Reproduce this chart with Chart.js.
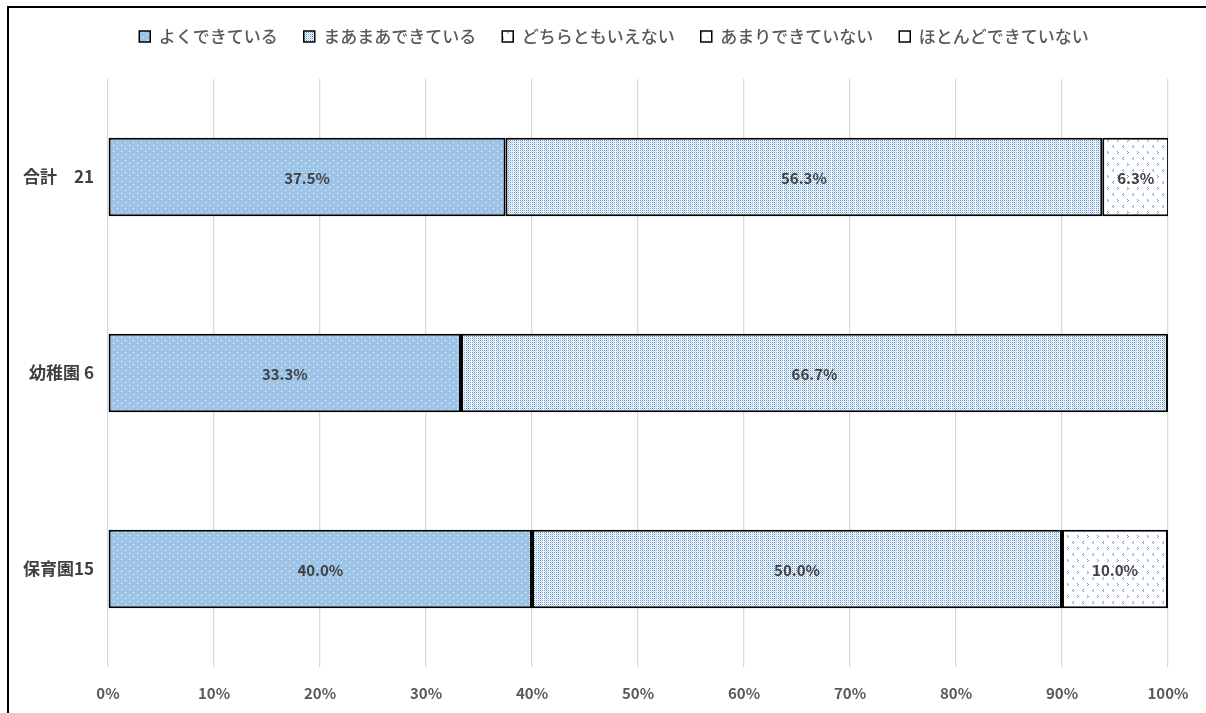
<!DOCTYPE html>
<html>
<head>
<meta charset="utf-8">
<script src="https://cdn.jsdelivr.net/npm/chart.js@4/dist/chart.umd.min.js"></script>
<style>
body{margin:0;background:#fff;}
#wrap{position:relative;width:1206px;height:713px;}
</style>
</head>
<body>
<div id="wrap"><canvas id="cv" width="1206" height="713"></canvas></div>
<script>
// categories and series (percent of answers)
const categories = ['合計　21', '幼稚園 6', '保育園15'];
const seriesNames = ['よくできている', 'まあまあできている', 'どちらともいえない', 'あまりできていない', 'ほとんどできていない'];
const yokuDekiteiru = [37.5, 33.3, 40.0];
const maamaa = [56.3, 66.7, 50.0];
const dochiramo = [6.3, 0, 10.0];
const amari = [0, 0, 0];
const hotondo = [0, 0, 0];
const xTicks = [0, 10, 20, 30, 40, 50, 60, 70, 80, 90, 100];

// little canvas patterns like the excel fills
function makePattern(w, h, draw){
  let c = document.createElement('canvas');
  c.width = w; c.height = h;
  let g = c.getContext('2d');
  draw(g);
  return document.getElementById('cv').getContext('2d').createPattern(c, 'repeat');
}
const patDots = makePattern(8, 6, function(g){
  g.fillStyle = '#9DC3E6'; g.fillRect(0,0,8,6);
  g.fillStyle = 'rgba(255,255,255,0.95)';
  g.fillRect(1,1,1,1);
  g.fillRect(5,4,1,1);
});
const patDense = makePattern(6, 4, function(g){
  g.fillStyle = '#fff'; g.fillRect(0,0,6,4);
  let a = [0.9, 0.3, 0.7, 0.2, 0.8, 0.4];
  for (let x=0;x<6;x++){
    for (let y=0;y<4;y++){
      if ((x+y)%2==0){
        g.fillStyle = 'rgba(60,130,205,'+a[x]+')';
        g.fillRect(x,y,1,1);
      }
    }
  }
});
const patChevron = makePattern(10, 12, function(g){
  g.fillStyle = '#fff'; g.fillRect(0,0,10,12);
  g.fillStyle = 'rgba(60,130,205,0.8)';
  // '<'
  g.fillRect(3,1,1,1); g.fillRect(2,2,1,1); g.fillRect(3,3,1,1);
  // '>'
  g.fillRect(7,7,1,1); g.fillRect(8,8,1,1); g.fillRect(7,9,1,1);
});
const patLight = makePattern(10, 10, function(g){
  g.fillStyle = '#fff'; g.fillRect(0,0,10,10);
  g.fillStyle = 'rgba(60,130,205,0.5)';
  g.fillRect(2,2,1,1); g.fillRect(7,7,1,1);
});

// value labels in the middle of each segment
const barLabels = {
  id: 'barLabels',
  afterDatasetsDraw(chart){
    let ctx = chart.ctx;
    ctx.save();
    ctx.font = 'bold 15px "Noto Sans CJK JP", "Noto Sans", sans-serif';
    ctx.fillStyle = '#404040';
    ctx.textAlign = 'center';
    ctx.textBaseline = 'middle';
    chart.data.datasets.forEach(function(ds, i){
      let meta = chart.getDatasetMeta(i);
      meta.data.forEach(function(bar, j){
        let v = ds.data[j];
        if (!v) return;
        ctx.fillText(v.toFixed(1) + '%', (bar.x + bar.base)/2, bar.y + 1);
      });
    });
    ctx.restore();
  }
};

// extra room under the legend, and legend centred on the whole page
const legendGap = {
  id: 'legendGap',
  afterInit(chart){
    let lg = chart.legend;
    let origFit = lg.fit;
    lg.fit = function(){
      origFit.call(this);
      this.height += 24;
    };
    let origDraw = lg.draw;
    lg.draw = function(){
      this.ctx.save();
      this.ctx.translate(30, 0);
      origDraw.call(this);
      this.ctx.restore();
    };
  }
};

// the frame edge that is visible in the picture (top and left)
const frame = {
  id: 'frame',
  afterDraw(chart){
    let ctx = chart.ctx;
    ctx.save();
    ctx.strokeStyle = '#000';
    ctx.lineWidth = 2;
    ctx.beginPath();
    ctx.moveTo(8, 713);
    ctx.lineTo(8, 7);
    ctx.lineTo(1206, 7);
    ctx.stroke();
    ctx.restore();
  }
};

function ds(label, data, fill){
  return {
    label: label,
    data: data,
    backgroundColor: fill,
    borderColor: '#000',
    borderWidth: 2,
    borderSkipped: false,
    barPercentage: 0.4,
    categoryPercentage: 1
  };
}

new Chart(document.getElementById('cv'), {
  type: 'bar',
  data: {
    labels: categories,
    datasets: [
      ds(seriesNames[0], yokuDekiteiru, patDots),
      ds(seriesNames[1], maamaa, patDense),
      ds(seriesNames[2], dochiramo, patChevron),
      ds(seriesNames[3], amari, patLight),
      ds(seriesNames[4], hotondo, '#fff')
    ]
  },
  options: {
    indexAxis: 'y',
    responsive: false,
    animation: false,
    layout: { padding: { top: 2, right: 38, left: 0, bottom: 0 } },
    plugins: {
      legend: {
        position: 'top',
        labels: {
          boxWidth: 11,
          boxHeight: 11,
          padding: 26,
          color: '#595959',
          font: { family: '"Noto Sans CJK JP"', size: 17, weight: '500' },
          generateLabels(chart){
            return chart.data.datasets.map(function(d, i){
              return {
                text: d.label,
                fillStyle: d.backgroundColor,
                strokeStyle: '#000',
                lineWidth: 1.5,
                datasetIndex: i,
                fontColor: '#595959'
              };
            });
          }
        }
      },
      tooltip: { enabled: false }
    },
    scales: {
      x: {
        stacked: true,
        min: 0,
        max: 100,
        afterBuildTicks(scale){
          scale.ticks = xTicks.map(function(v){ return { value: v }; });
        },
        afterFit(scale){ scale.height = 46; },
        grid: { color: '#D9D9D9', lineWidth: 1.3, drawTicks: false },
        border: { display: false },
        ticks: {
          padding: 17,
          color: '#595959',
          font: { family: '"Noto Sans CJK JP", "Noto Sans"', size: 15, weight: 'bold' },
          callback: function(v){ return v + '%'; }
        }
      },
      y: {
        stacked: true,
        afterFit(scale){ scale.width = 108; },
        grid: { display: false, drawTicks: false },
        border: { display: false },
        ticks: {
          padding: 14,
          color: '#404040',
          font: { family: '"Noto Sans CJK JP"', size: 17, weight: 'bold' }
        }
      }
    }
  },
  plugins: [barLabels, legendGap, frame]
});
</script>
</body>
</html>
